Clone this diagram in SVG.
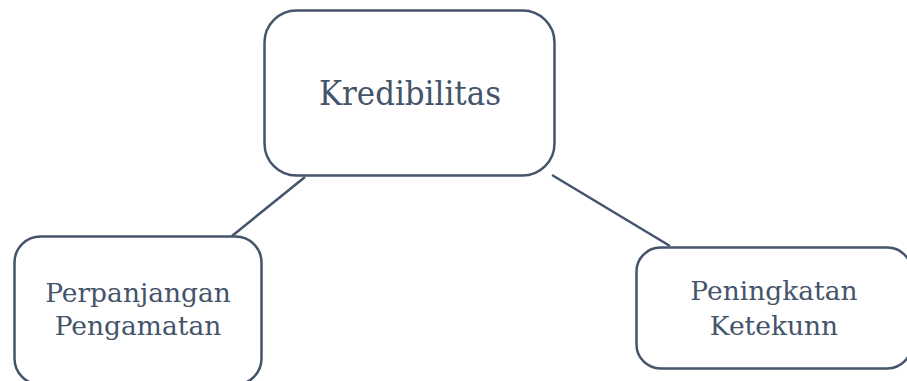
<svg xmlns="http://www.w3.org/2000/svg" width="907" height="381" viewBox="0 0 907 381">
<style>
.box{fill:#fff;stroke:#44546a;stroke-width:2.5}
.lbl{font-family:"DejaVu Serif","Liberation Serif",serif;fill:#44546a;text-anchor:middle}
.conn{stroke:#44546a;stroke-width:2.5;fill:none}
</style>
<rect width="907" height="381" fill="#fff"/>
<g id="connectors">
<line class="conn" x1="305" y1="177" x2="232" y2="236"/>
<line class="conn" x1="552" y1="175" x2="670" y2="246"/>
</g>
<g id="kredibilitas">
<rect class="box" x="264.5" y="10.5" width="290" height="165" rx="32"/>
<text class="lbl" x="410" y="105" font-size="34" textLength="182" lengthAdjust="spacingAndGlyphs">Kredibilitas</text>
</g>
<g id="perpanjangan">
<rect class="box" x="14.5" y="236.5" width="247" height="148" rx="26"/>
<text class="lbl" x="138" y="302" font-size="26.5">Perpanjangan</text>
<text class="lbl" x="138" y="335" font-size="26.5">Pengamatan</text>
</g>
<g id="peningkatan">
<rect class="box" x="636.5" y="247.5" width="275" height="121" rx="24"/>
<text class="lbl" x="774" y="300" font-size="26.5">Peningkatan</text>
<text class="lbl" x="774" y="335" font-size="26.5">Ketekunn</text>
</g>
</svg>
